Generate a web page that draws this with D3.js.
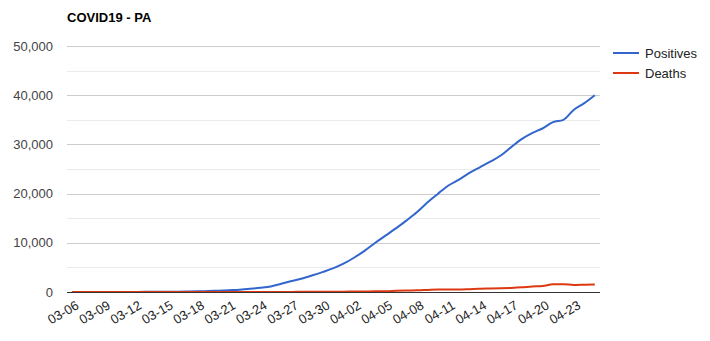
<!DOCTYPE html>
<html>
<head>
<meta charset="utf-8">
<script src="https://cdn.jsdelivr.net/npm/d3@7/dist/d3.min.js"></script>
<style>
  body { margin: 0; background: #fff; }
  text { font-family: "Liberation Sans", Arial, sans-serif; }
</style>
</head>
<body>
<div id="chart-area"></div>
<script>
// --> DATA
var dates = ["03-06","03-07","03-08","03-09","03-10","03-11","03-12","03-13","03-14","03-15",
  "03-16","03-17","03-18","03-19","03-20","03-21","03-22","03-23","03-24","03-25",
  "03-26","03-27","03-28","03-29","03-30","03-31","04-01","04-02","04-03","04-04",
  "04-05","04-06","04-07","04-08","04-09","04-10","04-11","04-12","04-13","04-14",
  "04-15","04-16","04-17","04-18","04-19","04-20","04-21","04-22","04-23","04-24","04-25"];

var positives = [2,4,6,10,12,16,22,41,47,63,
  76,96,133,185,268,371,479,644,851,1127,
  1687,2218,2751,3394,4087,4843,5805,7016,8420,10017,
  11510,12980,14559,16239,18228,19979,21655,22833,24199,25345,
  26490,27735,29441,31069,32284,33232,34528,35000,37053,38379,39989];

var deaths = [0,0,0,0,0,0,0,0,0,0,
  0,0,1,1,1,2,2,6,7,11,
  16,22,34,38,49,63,74,90,102,136,
  162,240,309,338,416,494,507,524,584,647,
  707,756,836,949,1112,1204,1564,1580,1421,1480,1550];

var yTicks = [0, 10000, 20000, 30000, 40000, 50000];
var yMinorTicks = [5000, 15000, 25000, 35000, 45000];

var seriesNames = ["Positives", "Deaths"];
var seriesColors = ["#3366cc", "#dc3912"];

// --> SVG
var width = 710;
var height = 341;
var margin = {left: 67, right: 110, top: 46, bottom: 49};

var svg = d3.select("#chart-area").append("svg")
  .attr("width", width)
  .attr("height", height);

// Scales
var x = d3.scalePoint()
  .domain(dates)
  .range([margin.left, width - margin.right])
  .padding(0.5);

var y = d3.scaleLinear()
  .domain([0, 50000])
  .range([height - margin.bottom, margin.top]);

// Gridlines
svg.append("g").selectAll("line.minor")
  .data(yMinorTicks).enter().append("line")
  .attr("x1", margin.left).attr("x2", width - margin.right)
  .attr("y1", function(d){ return Math.round(y(d)) + 0.5; })
  .attr("y2", function(d){ return Math.round(y(d)) + 0.5; })
  .attr("stroke", "#ebebeb");

svg.append("g").selectAll("line.major")
  .data(yTicks.slice(1)).enter().append("line")
  .attr("x1", margin.left).attr("x2", width - margin.right)
  .attr("y1", function(d){ return Math.round(y(d)) + 0.5; })
  .attr("y2", function(d){ return Math.round(y(d)) + 0.5; })
  .attr("stroke", "#cccccc");

// Y labels
svg.append("g").selectAll("text")
  .data(yTicks).enter().append("text")
  .attr("x", margin.left - 14)
  .attr("y", function(d){ return y(d); })
  .attr("dy", "0.36em")
  .attr("text-anchor", "end")
  .attr("font-size", 13)
  .attr("fill", "#444")
  .text(function(d){ return d3.format(",")(d); });

// X labels (every 3 days)
var xLabels = dates.filter(function(d, i){ return i % 3 == 0; });
svg.append("g").selectAll("text")
  .data(xLabels).enter().append("text")
  .attr("transform", function(d){ return "translate(" + (x(d) + 3) + "," + (height - margin.bottom + 8) + ") rotate(-30)"; })
  .attr("dy", "0.71em")
  .attr("text-anchor", "end")
  .attr("font-size", 13)
  .attr("fill", "#222")
  .text(function(d){ return d; });

// Lines
var line = d3.line()
  .x(function(d, i){ return x(dates[i]); })
  .y(function(d){ return y(d); })
  .curve(d3.curveMonotoneX);

[positives, deaths].forEach(function(s, i){
  svg.append("path")
    .datum(s)
    .attr("d", line)
    .attr("fill", "none")
    .attr("stroke", seriesColors[i])
    .attr("stroke-width", 2);
});

// Baseline
svg.append("line")
  .attr("x1", margin.left).attr("x2", width - margin.right)
  .attr("y1", Math.round(y(0)) + 0.5).attr("y2", Math.round(y(0)) + 0.5)
  .attr("stroke", "#333");

// Title
svg.append("text")
  .attr("x", margin.left)
  .attr("y", 22)
  .attr("font-size", 13)
  .attr("font-weight", "bold")
  .attr("fill", "#000")
  .text("COVID19 - PA");

// Legend
var legend = svg.append("g");
seriesNames.forEach(function(name, i){
  var ly = 53 + i * 20;
  legend.append("line")
    .attr("x1", 613).attr("x2", 639)
    .attr("y1", ly).attr("y2", ly)
    .attr("stroke", seriesColors[i])
    .attr("stroke-width", 2);
  legend.append("text")
    .attr("x", 645).attr("y", ly)
    .attr("dy", "0.36em")
    .attr("font-size", 13)
    .attr("fill", "#222")
    .text(name);
});
</script>
</body>
</html>
